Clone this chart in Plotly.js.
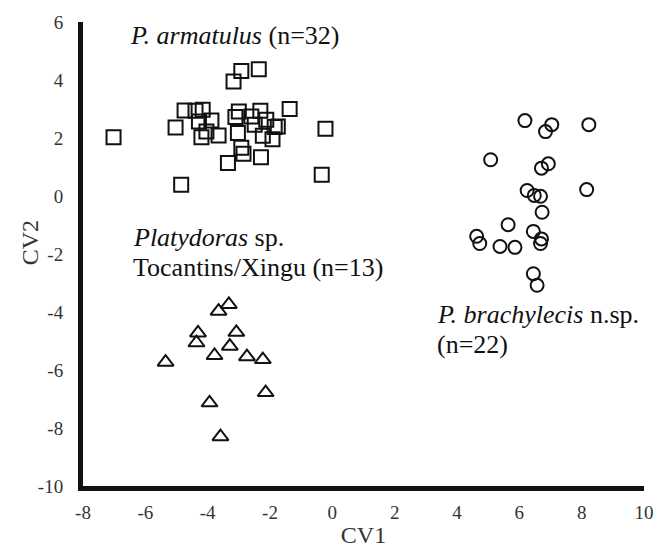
<!DOCTYPE html>
<html>
<head>
<meta charset="utf-8">
<script src="https://cdn.plot.ly/plotly-3.0.1.min.js"></script>
<style>html,body{margin:0;padding:0;background:#fff;}#chart{width:656px;height:548px;}</style>
</head>
<body>
<div id="chart"></div>
<script>
// P. armatulus (n=32) – squares
var armatulusCV1 = [-7.02,-4.85,-5.03,-4.74,-4.39,-4.16,-4.28,-3.88,-4.20,-4.04,-3.65,-3.17,-2.92,-2.36,-1.37,-0.22,-0.34,-3.35,-2.85,-2.29,-3.11,-3.00,-3.03,-2.92,-2.60,-2.31,-2.23,-2.12,-1.85,-1.92,-1.75,-2.49];
var armatulusCV2 = [2.03,0.39,2.36,2.95,2.94,2.97,2.57,2.60,2.03,2.22,2.09,3.95,4.31,4.37,3.00,2.32,0.73,1.14,1.46,1.34,2.72,2.91,2.17,1.66,2.74,2.94,2.08,2.63,2.38,1.96,2.40,2.46];
// P. brachylecis n.sp. (n=22) – circles
var brachylecisCV1 = [6.18,7.04,6.84,8.23,5.08,6.93,6.71,8.16,6.25,6.48,6.68,6.73,5.64,6.45,6.71,6.68,4.63,4.73,5.38,5.86,6.45,6.57];
var brachylecisCV2 = [2.60,2.46,2.22,2.46,1.25,1.11,0.96,0.22,0.19,0.02,-0.01,-0.56,-0.99,-1.22,-1.48,-1.64,-1.39,-1.64,-1.74,-1.77,-2.68,-3.08];
// Platydoras sp. Tocantins/Xingu (n=13) – triangles
var platydorasCV1 = [-3.32,-3.65,-4.31,-3.08,-4.36,-3.29,-3.78,-2.74,-2.23,-5.35,-2.14,-3.94,-3.59];
var platydorasCV2 = [-3.74,-3.97,-4.72,-4.70,-5.06,-5.18,-5.50,-5.54,-5.64,-5.73,-6.78,-7.13,-8.30];

var xTicks = [-8,-6,-4,-2,0,2,4,6,8,10];
var yTicks = [6,4,2,0,-2,-4,-6,-8,-10];

var serif = 'Liberation Serif, Times New Roman, serif';

function mk(x, y, sym, size, name) {
  return {
    x: x, y: y, type: 'scatter', mode: 'markers', name: name,
    marker: {symbol: sym, size: size, color: '#111', line: {color: '#111', width: 2}},
    hoverinfo: 'x+y'
  };
}

var data = [
  mk(armatulusCV1, armatulusCV2, 'square-open', 14, 'P. armatulus'),
  mk(brachylecisCV1, brachylecisCV2, 'circle-open', 13, 'P. brachylecis'),
  mk(platydorasCV1, platydorasCV2, 'triangle-up-open', 14, 'Platydoras sp.')
];

var annFont = {family: serif, size: 26, color: '#111'};
var layout = {
  width: 656, height: 548,
  margin: {l: 83, r: 12, t: 22, b: 62, pad: 0},
  paper_bgcolor: '#fff', plot_bgcolor: '#fff',
  showlegend: false,
  font: {family: serif},
  xaxis: {
    range: [-8, 10], tickvals: xTicks, ticktext: xTicks.map(String),
    showgrid: false, zeroline: false, showline: true, linecolor: '#111', linewidth: 5,
    ticks: '', ticklabelstandoff: 5,
    tickfont: {family: serif, size: 19, color: '#333'},
    title: {text: 'CV1', font: {family: serif, size: 24, color: '#333'}, standoff: 6}
  },
  yaxis: {
    range: [-10, 6], tickvals: yTicks, ticktext: yTicks.map(String),
    showgrid: false, zeroline: false, showline: true, linecolor: '#111', linewidth: 5,
    ticks: '', ticklabelstandoff: 11,
    tickfont: {family: serif, size: 19, color: '#333'}
  },
  annotations: [
    {xref: 'paper', yref: 'paper', x: -0.093, y: 0.525, text: 'CV2', textangle: -90, showarrow: false,
     xanchor: 'center', yanchor: 'middle', font: {family: serif, size: 24, color: '#333'}},
    {xref: 'x', yref: 'y', x: -6.57, y: 5.55, text: '<i>P. armatulus</i> (n=32)', showarrow: false,
     xanchor: 'left', yanchor: 'middle', font: annFont},
    {xref: 'x', yref: 'y', x: -6.46, y: -1.42, text: '<i>Platydoras</i> sp.', showarrow: false,
     xanchor: 'left', yanchor: 'middle', font: annFont},
    {xref: 'x', yref: 'y', x: -6.46, y: -2.46, text: 'Tocantins/Xingu (n=13)', showarrow: false,
     xanchor: 'left', yanchor: 'middle', font: annFont},
    {xref: 'x', yref: 'y', x: 3.29, y: -4.10, text: '<i>P. brachylecis</i> n.sp.', showarrow: false,
     xanchor: 'left', yanchor: 'middle', font: annFont},
    {xref: 'x', yref: 'y', x: 3.29, y: -5.12, text: '(n=22)', showarrow: false,
     xanchor: 'left', yanchor: 'middle', font: annFont}
  ]
};

Plotly.newPlot('chart', data, layout, {displayModeBar: false, staticPlot: true});
</script>
</body>
</html>
